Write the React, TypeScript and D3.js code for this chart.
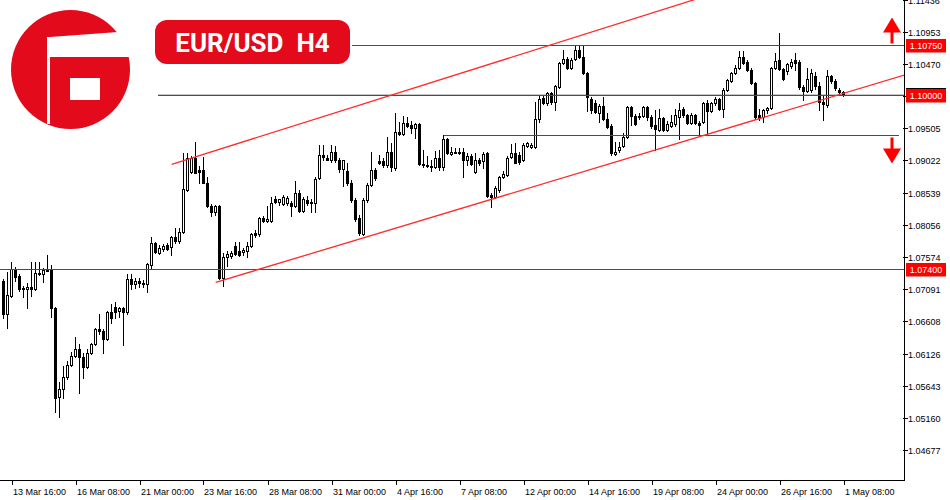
import React from "react";
import * as d3 from "d3";

// ---------- DATA (EUR/USD H4) ----------
const opens = [
  1.07214, 1.06719, 1.06989, 1.07394, 1.07289, 1.07109, 1.07094, 1.07124, 1.07094, 1.07334,
  1.07319, 1.07379, 1.07379, 1.06809, 1.05474, 1.05594, 1.05774, 1.05954, 1.06089, 1.06194,
  1.06074, 1.05924, 1.06134, 1.06269, 1.06494, 1.06464, 1.06344, 1.06749, 1.06824, 1.06764,
  1.06809, 1.06749, 1.07244, 1.07169, 1.07214, 1.07184, 1.07169, 1.07454, 1.07784, 1.07634,
  1.07694, 1.07754, 1.07724, 1.07874, 1.07814, 1.07949, 1.08579, 1.08849, 1.09059, 1.08879,
  1.08879, 1.08684, 1.08339, 1.08249, 1.08339, 1.07259, 1.07574, 1.07589, 1.07739, 1.07664,
  1.07649, 1.07664, 1.07739, 1.07934, 1.07919, 1.08159, 1.08114, 1.08114, 1.08444, 1.08399,
  1.08369, 1.08384, 1.08384, 1.08339, 1.08534, 1.08264, 1.08429, 1.08399, 1.08384, 1.08759,
  1.09104, 1.09059, 1.09029, 1.09149, 1.09029, 1.08894, 1.08864, 1.08684, 1.08429, 1.08159,
  1.07919, 1.08429, 1.08654, 1.08879, 1.09009, 1.09014, 1.08954, 1.09149, 1.08909, 1.09449,
  1.09419, 1.09584, 1.09554, 1.09509, 1.09569, 1.08969, 1.08954, 1.08939, 1.08924, 1.09059,
  1.08924, 1.09344, 1.09119, 1.09149, 1.09134, 1.09149, 1.09029, 1.09089, 1.08849, 1.09029,
  1.09014, 1.09134, 1.08504, 1.08474, 1.08579, 1.08774, 1.08804, 1.09074, 1.09134, 1.09104,
  1.09029, 1.09239, 1.09224, 1.09224, 1.09644, 1.09959, 1.09884, 1.10034, 1.09899, 1.10124,
  1.10484, 1.10544, 1.10409, 1.10544, 1.10679, 1.10574, 1.10334, 1.09944, 1.09884, 1.09734,
  1.09839, 1.09644, 1.09539, 1.09119, 1.09179, 1.09239, 1.09374, 1.09824, 1.09689, 1.09689,
  1.09689, 1.09824, 1.09674, 1.09554, 1.09479, 1.09659, 1.09479, 1.09539, 1.09569, 1.09674,
  1.09794, 1.09704, 1.09584, 1.09704, 1.09584, 1.09599, 1.09884, 1.09764, 1.09884, 1.09944,
  1.09794, 1.10079, 1.10214, 1.10334, 1.10409, 1.10574, 1.10499, 1.10379, 1.10184, 1.09704,
  1.09674, 1.09779, 1.09809, 1.10409, 1.10529, 1.10394, 1.10364, 1.10439, 1.10529, 1.10499,
  1.10124, 1.10064, 1.10079, 1.10289, 1.10139, 1.09899, 1.09854, 1.10289, 1.10214, 1.10079, 1.10049,
];
const highs = [
  1.07244, 1.07349, 1.07499, 1.07424, 1.07319, 1.07139, 1.07184, 1.07499, 1.07499, 1.07499,
  1.07409, 1.07604, 1.07454, 1.06824, 1.05699, 1.05939, 1.06014, 1.06149, 1.06374, 1.06269,
  1.06134, 1.06194, 1.06284, 1.06509, 1.06719, 1.06494, 1.06764, 1.06869, 1.06899, 1.06824,
  1.06824, 1.07319, 1.07319, 1.07259, 1.07259, 1.07229, 1.07484, 1.07874, 1.07799, 1.07754,
  1.07769, 1.07784, 1.07889, 1.08009, 1.08009, 1.09134, 1.09134, 1.09089, 1.09299, 1.08939,
  1.09074, 1.08774, 1.08369, 1.08354, 1.08354, 1.07634, 1.07664, 1.07664, 1.07799, 1.07799,
  1.07709, 1.07799, 1.07934, 1.07979, 1.08174, 1.08189, 1.08339, 1.08474, 1.08489, 1.08444,
  1.08504, 1.08489, 1.08414, 1.08714, 1.08579, 1.08474, 1.08489, 1.08444, 1.08774, 1.09254,
  1.09254, 1.09104, 1.09254, 1.09239, 1.09059, 1.09029, 1.08984, 1.08729, 1.08459, 1.08204,
  1.08459, 1.08684, 1.09149, 1.08909, 1.09104, 1.09059, 1.09374, 1.09284, 1.09734, 1.09599,
  1.09689, 1.09674, 1.09614, 1.09584, 1.09584, 1.09179, 1.09089, 1.09029, 1.09164, 1.09179,
  1.09404, 1.09359, 1.09224, 1.09209, 1.09209, 1.09209, 1.09134, 1.09119, 1.09134, 1.09059,
  1.09149, 1.09149, 1.08534, 1.08639, 1.08789, 1.08864, 1.09089, 1.09269, 1.09284, 1.09149,
  1.09284, 1.09299, 1.09284, 1.09899, 1.09989, 1.10004, 1.10049, 1.10049, 1.10154, 1.10499,
  1.10679, 1.10574, 1.10559, 1.10739, 1.10739, 1.10739, 1.10349, 1.09974, 1.09929, 1.09869,
  1.09974, 1.09734, 1.09569, 1.09299, 1.09299, 1.09434, 1.09839, 1.09839, 1.09719, 1.09734,
  1.09839, 1.09839, 1.09704, 1.09779, 1.09794, 1.09674, 1.09614, 1.09704, 1.09794, 1.09884,
  1.09824, 1.09719, 1.09734, 1.09719, 1.09614, 1.09899, 1.09929, 1.09899, 1.09974, 1.09959,
  1.10109, 1.10244, 1.10349, 1.10454, 1.10664, 1.10664, 1.10529, 1.10409, 1.10199, 1.09794,
  1.09794, 1.09824, 1.10424, 1.10634, 1.10934, 1.10409, 1.10484, 1.10544, 1.10634, 1.10529,
  1.10154, 1.10409, 1.10394, 1.10349, 1.10199, 1.10004, 1.10379, 1.10304, 1.10244, 1.10109, 1.10064,
];
const lows = [
  1.06659, 1.06509, 1.06974, 1.07214, 1.07064, 1.06974, 1.06809, 1.06989, 1.07079, 1.07304,
  1.07199, 1.07364, 1.06674, 1.05249, 1.05174, 1.05459, 1.05744, 1.05939, 1.06074, 1.05534,
  1.05759, 1.05909, 1.06119, 1.06254, 1.06419, 1.06134, 1.06329, 1.06584, 1.06659, 1.06674,
  1.06254, 1.06719, 1.07094, 1.07109, 1.07124, 1.07124, 1.07049, 1.07409, 1.07634, 1.07619,
  1.07664, 1.07679, 1.07604, 1.07784, 1.07784, 1.07934, 1.08564, 1.08834, 1.08834, 1.08684,
  1.08684, 1.08324, 1.08189, 1.08204, 1.07244, 1.07139, 1.07439, 1.07559, 1.07604, 1.07589,
  1.07604, 1.07574, 1.07724, 1.07874, 1.07889, 1.08099, 1.08099, 1.08099, 1.08384, 1.08354,
  1.08354, 1.08354, 1.08189, 1.08324, 1.08249, 1.08249, 1.08354, 1.08249, 1.08249, 1.08744,
  1.09029, 1.09029, 1.08999, 1.08999, 1.08849, 1.08639, 1.08654, 1.08399, 1.08114, 1.07904,
  1.07904, 1.08399, 1.08639, 1.08729, 1.08969, 1.08924, 1.08924, 1.08864, 1.08879, 1.09404,
  1.09404, 1.09524, 1.09434, 1.09359, 1.08954, 1.08924, 1.08924, 1.08864, 1.08909, 1.08879,
  1.08879, 1.09119, 1.09104, 1.09134, 1.09119, 1.08774, 1.08954, 1.08954, 1.08834, 1.08954,
  1.08909, 1.08474, 1.08324, 1.08459, 1.08549, 1.08759, 1.08789, 1.09059, 1.08984, 1.08969,
  1.09014, 1.09224, 1.09209, 1.09209, 1.09599, 1.09869, 1.09854, 1.09869, 1.09779, 1.10109,
  1.10469, 1.10394, 1.10394, 1.10529, 1.10559, 1.10319, 1.09764, 1.09734, 1.09734, 1.09599,
  1.09629, 1.09509, 1.09104, 1.09104, 1.09149, 1.09224, 1.09359, 1.09554, 1.09554, 1.09644,
  1.09674, 1.09629, 1.09509, 1.09179, 1.09464, 1.09464, 1.09464, 1.09524, 1.09539, 1.09344,
  1.09674, 1.09569, 1.09569, 1.09569, 1.09404, 1.09584, 1.09404, 1.09749, 1.09854, 1.09779,
  1.09674, 1.10064, 1.10199, 1.10319, 1.10394, 1.10469, 1.10364, 1.10169, 1.09644, 1.09629,
  1.09599, 1.09734, 1.09794, 1.10394, 1.10379, 1.10229, 1.10319, 1.10409, 1.10379, 1.10094,
  1.09929, 1.10049, 1.10049, 1.10094, 1.09779, 1.09629, 1.09824, 1.10184, 1.10079, 1.10019, 1.09989,
];
const closes = [
  1.06719, 1.07004, 1.07394, 1.07274, 1.07094, 1.07094, 1.07124, 1.07094, 1.07334, 1.07319,
  1.07379, 1.07364, 1.06809, 1.05459, 1.05594, 1.05774, 1.05954, 1.06089, 1.06194, 1.06074,
  1.05924, 1.06134, 1.06269, 1.06494, 1.06464, 1.06344, 1.06749, 1.06659, 1.06749, 1.06809,
  1.06749, 1.07244, 1.07169, 1.07214, 1.07184, 1.07169, 1.07469, 1.07784, 1.07649, 1.07709,
  1.07739, 1.07694, 1.07874, 1.07814, 1.07949, 1.08594, 1.09059, 1.09059, 1.08834, 1.08849,
  1.08684, 1.08339, 1.08249, 1.08339, 1.07259, 1.07574, 1.07619, 1.07634, 1.07619, 1.07604,
  1.07679, 1.07739, 1.07919, 1.07904, 1.08159, 1.08114, 1.08144, 1.08384, 1.08399, 1.08444,
  1.08474, 1.08459, 1.08339, 1.08534, 1.08264, 1.08444, 1.08384, 1.08384, 1.08744, 1.09104,
  1.09074, 1.09029, 1.09149, 1.09029, 1.08894, 1.09029, 1.08684, 1.08429, 1.08144, 1.07934,
  1.08429, 1.08654, 1.08879, 1.08759, 1.08984, 1.08954, 1.09149, 1.08924, 1.09449, 1.09419,
  1.09584, 1.09539, 1.09509, 1.09569, 1.08969, 1.08954, 1.08939, 1.08924, 1.09059, 1.08924,
  1.09344, 1.09134, 1.09149, 1.09134, 1.09149, 1.09029, 1.09089, 1.08969, 1.09029, 1.08984,
  1.09119, 1.08489, 1.08474, 1.08609, 1.08774, 1.08819, 1.09059, 1.09134, 1.08984, 1.08999,
  1.09254, 1.09284, 1.09254, 1.09644, 1.09944, 1.09884, 1.10034, 1.09899, 1.10139, 1.10484,
  1.10544, 1.10409, 1.10529, 1.10679, 1.10574, 1.10334, 1.09974, 1.09779, 1.09749, 1.09839,
  1.09644, 1.09524, 1.09134, 1.09149, 1.09224, 1.09374, 1.09824, 1.09689, 1.09569, 1.09674,
  1.09824, 1.09674, 1.09539, 1.09494, 1.09659, 1.09479, 1.09569, 1.09599, 1.09704, 1.09779,
  1.09704, 1.09584, 1.09704, 1.09584, 1.09554, 1.09884, 1.09764, 1.09884, 1.09944, 1.09794,
  1.10079, 1.10229, 1.10334, 1.10409, 1.10574, 1.10484, 1.10379, 1.10184, 1.09674, 1.09659,
  1.09779, 1.09809, 1.10409, 1.10514, 1.10394, 1.10244, 1.10469, 1.10499, 1.10484, 1.10124,
  1.10064, 1.10244, 1.10334, 1.10139, 1.09899, 1.09869, 1.10289, 1.10214, 1.10109, 1.10049, 1.10012,
];

const timeTickLabels = [
  "13 Mar 16:00", "16 Mar 08:00", "21 Mar 00:00", "23 Mar 16:00", "28 Mar 08:00",
  "31 Mar 00:00", "4 Apr 16:00", "7 Apr 08:00", "12 Apr 00:00", "14 Apr 16:00",
  "19 Apr 08:00", "24 Apr 00:00", "26 Apr 16:00", "1 May 08:00",
];
const timeTickBars = [2, 18, 34, 50, 66, 82, 98, 114, 130, 146, 162, 178, 194, 210];

const priceTicks = [
  1.11436, 1.10953, 1.1047, 1.09987, 1.09505, 1.09022, 1.08539, 1.08056,
  1.07574, 1.07091, 1.06608, 1.06126, 1.05643, 1.0516, 1.04677,
];

// horizontal levels with labels, and the bar where each line starts
const levelPrices = [1.1075, 1.1, 1.074];
const levelStartBars = [87, 38.6, -1];
// unlabelled support line
const supportPrice = 1.094;
const supportBars = [110, 223.9];
// channel lines: [bar, price] anchors
const channelLower = [[53.05, 1.07194], [225.4, 1.10307]];
const channelUpper = [[42.05, 1.08965], [180, 1.11572]];

const title = "EUR/USD  H4";

// ---------- CHART ----------
const W = 950;
const H = 500;
const AXIS_X = 904.5;
const AXIS_Y = 480.5;
const RED = "#ff0000";
const BRAND = "#e20a1b";
const FONT = "'Liberation Sans', Arial, sans-serif";

export default function App() {
  const x = d3.scaleLinear().domain([0, 210]).range([3.5, 843.5]);
  const y = d3.scaleLinear().domain([1.04214, 1.11429]).range([481, 0]);

  const candles = opens.map((o, i) => {
    const c = closes[i];
    const cx = Math.round(x(i) - 0.5) + 0.5;
    const yH = Math.round(y(highs[i]));
    const yL = Math.round(y(lows[i]));
    const yO = Math.round(y(o));
    const yC = Math.round(y(c));
    let body: React.ReactNode;
    if (yO === yC) {
      body = <rect x={cx - 1.5} y={yO} width={3} height={1} fill="#000" />;
    } else if (c < o) {
      body = <rect x={cx - 1.5} y={yO} width={3} height={yC - yO + 1} fill="#000" />;
    } else {
      body = (
        <rect x={cx - 1} y={yC + 0.5} width={2} height={yO - yC} fill="#fff" stroke="#000" strokeWidth={1} />
      );
    }
    return (
      <g key={i}>
        <rect x={cx - 0.5} y={yH} width={1} height={yL - yH + 1} fill="#000" />
        {body}
      </g>
    );
  });

  const lastClose = closes[closes.length - 1];
  const yLast = Math.round(y(lastClose));

  const lineGen = d3
    .line<number[]>()
    .x((d) => x(d[0]))
    .y((d) => y(d[1]));

  const upY = Math.round(y(levelPrices[0])) + 0.5;
  const dnY = Math.round(y(supportPrice)) + 0.5;
  const arrowX = AXIS_X - 12.5;

  return (
    <svg
      width={W}
      height={H}
      style={{ position: "fixed", left: 0, top: 0, background: "#fff" }}
      fontFamily={FONT}
    >
      <defs>
        <clipPath id="plot">
          <rect x={0} y={0} width={AXIS_X} height={AXIS_Y} />
        </clipPath>
      </defs>
      <rect x={0} y={0} width={W} height={H} fill="#fff" />

      <g clipPath="url(#plot)" shapeRendering="crispEdges">
        {/* bid line */}
        <rect x={x(levelStartBars[1])} y={yLast} width={AXIS_X - x(levelStartBars[1])} height={1} fill="#c8c8c8" />
        {candles}
        {/* horizontal levels */}
        {levelPrices.map((p, i) => {
          const yy = Math.round(y(p));
          const x0 = Math.max(0, x(levelStartBars[i]));
          return <rect key={i} x={x0} y={yy} width={AXIS_X - x0} height={1} fill={RED} />;
        })}
        <rect
          x={x(supportBars[0])}
          y={Math.round(y(supportPrice))}
          width={x(supportBars[1]) - x(supportBars[0])}
          height={1}
          fill={RED}
        />
      </g>
      <g clipPath="url(#plot)">
        <path d={lineGen(channelLower) || ""} stroke="#ff2b2b" strokeWidth={1.3} fill="none" />
        <path d={lineGen(channelUpper) || ""} stroke="#ff2b2b" strokeWidth={1.3} fill="none" />
      </g>

      {/* axes */}
      <g shapeRendering="crispEdges">
        <line x1={AXIS_X} x2={AXIS_X} y1={0} y2={AXIS_Y} stroke="#000" />
        <line x1={0} x2={AXIS_X} y1={AXIS_Y} y2={AXIS_Y} stroke="#000" />
        {priceTicks.map((p, i) => {
          const yy = Math.round(y(p)) + 0.5;
          return (
            <g key={i}>
              <line x1={AXIS_X - 1.5} x2={AXIS_X + 3} y1={yy} y2={yy} stroke="#000" />
              <text x={908} y={yy + 3.2} fontSize={9} fill="#000">
                {p.toFixed(5)}
              </text>
            </g>
          );
        })}
        {timeTickBars.map((b, i) => {
          const xx = Math.round(x(b)) + 0.5;
          return (
            <g key={i}>
              <line x1={xx} x2={xx} y1={AXIS_Y} y2={AXIS_Y + 4} stroke="#000" />
              <text x={xx + 0.5} y={495} fontSize={9} fill="#000">
                {timeTickLabels[i]}
              </text>
            </g>
          );
        })}
      </g>

      {/* last price label (mostly hidden) */}
      <rect x={906} y={yLast - 6} width={40} height={13} fill="#000" />

      {/* level labels */}
      {levelPrices.map((p, i) => {
        const yy = Math.round(y(p)) + 0.5;
        return (
          <g key={i}>
            <rect x={906} y={yy - 6.5} width={40} height={13.5} fill={RED} />
            <text x={926} y={yy + 3.3} fontSize={9} fill="#fff" textAnchor="middle">
              {p.toFixed(5)}
            </text>
          </g>
        );
      })}

      {/* arrows */}
      <g fill={RED}>
        <rect x={arrowX - 1.5} y={upY - 14} width={3} height={12} />
        <path d={`M${arrowX - 9},${upY - 13} L${arrowX + 9},${upY - 13} L${arrowX},${upY - 28} Z`} />
        <rect x={arrowX - 1.5} y={dnY + 2} width={3} height={12} />
        <path d={`M${arrowX - 9},${dnY + 13} L${arrowX + 9},${dnY + 13} L${arrowX},${dnY + 28} Z`} />
      </g>

      {/* logo */}
      <g>
        <circle cx={70.5} cy={69.5} r={59.5} fill={BRAND} />
        <path d="M50,37 L118,32 L140,32 L140,57 L50,57 Z" fill="#fff" />
        <rect x={47} y={37} width={3} height={87} fill="#fff" />
        <rect x={70} y={78} width={30} height={22} fill="#fff" />
      </g>

      {/* title pill */}
      <rect x={155} y={20} width={195} height={44} rx={12} ry={12} fill={BRAND} />
      <text
        x={252.5}
        y={52}
        fontSize={26}
        fontWeight="bold"
        fill="#fff"
        textAnchor="middle"
        style={{ whiteSpace: "pre" }}
        fontFamily="Roboto, 'Liberation Sans', sans-serif"
      >
        {title}
      </text>
    </svg>
  );
}
